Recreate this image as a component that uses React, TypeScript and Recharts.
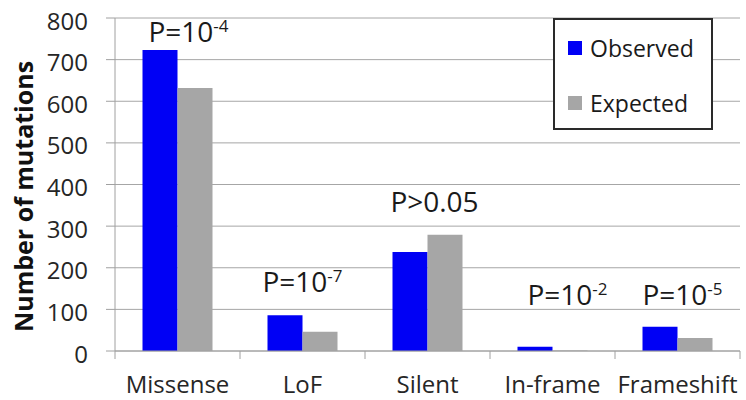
import React from 'react'
import {
  BarChart, Bar, Line, XAxis, YAxis, CartesianGrid, Legend, LabelList,
} from 'recharts'

const CATEGORIES = ['Missense', 'LoF', 'Silent', 'In-frame', 'Frameshift']
const OBSERVED = [723, 86, 238, 10, 58]
const EXPECTED = [632, 46, 279, 1, 31]
const Y_TICKS = [0, 100, 200, 300, 400, 500, 600, 700, 800]
const SERIES = ['Observed', 'Expected']

// p-value annotations: base text, superscript, and height (data units) of the text baseline
const P_TEXT = ['P=10', 'P=10', 'P>0.05', 'P=10', 'P=10']
const P_SUP = ['-4', '-7', '', '-2', '-5']
const P_LEVEL = [742, 142, 334, 110, 110]

const W = 746
const H = 400
const MARGIN = { top: 18, right: 6, left: 0, bottom: 0 }
const Y_AXIS_W = 115
const X_AXIS_H = 49
const HALF_BAND = (W - Y_AXIS_W - MARGIN.right) / CATEGORIES.length / 2
const LABEL_DX = [11, 0, 7, 15, 5]

const FONT = "'Open Sans', sans-serif"
const AXIS_GRAY = '#a0a0a0'
const BLUE = '#0000f5'
const GRAY = '#a6a6a6'

const data = CATEGORIES.map((name, i) => ({
  name,
  Observed: OBSERVED[i],
  Expected: EXPECTED[i],
  pLevel: P_LEVEL[i],
}))

function CategoryTick({ x, y, payload, index, visibleTicksCount }: any) {
  return (
    <g>
      <line x1={x - HALF_BAND} x2={x - HALF_BAND} y1={y} y2={y + 8} stroke={AXIS_GRAY} />
      {index === visibleTicksCount - 1 && (
        <line x1={x + HALF_BAND} x2={x + HALF_BAND} y1={y} y2={y + 8} stroke={AXIS_GRAY} />
      )}
      <text x={x} y={y + 42} textAnchor="middle" fontSize={24} fontFamily={FONT} fill="#262626">
        {payload.value}
      </text>
    </g>
  )
}

function PLabel({ x, y, index }: any) {
  return (
    <text x={x + LABEL_DX[index]} y={y} textAnchor="middle" fontSize={28} fontFamily={FONT} fill="#1a1a1a">
      <tspan>{P_TEXT[index]}</tspan>
      {P_SUP[index] && <tspan dy={-10} fontSize={17}>{P_SUP[index]}</tspan>}
    </text>
  )
}

function YTitle({ viewBox }: any) {
  const cy = viewBox.y + viewBox.height / 2 + 12
  return (
    <text
      x={23} y={cy} transform={`rotate(-90 23 ${cy})`}
      textAnchor="middle" dominantBaseline="central"
      fontSize={25} fontWeight="bold" fontFamily={FONT} fill="#111"
    >
      Number of mutations
    </text>
  )
}

function LegendBox({ payload }: any) {
  const items = SERIES.map((name) => (payload || []).find((p: any) => p.value === name)).filter(Boolean)
  return (
    <div style={{
      width: 156, height: 108, border: '2px solid #2a2a2a', background: '#fff',
      fontFamily: FONT, fontSize: 23, color: '#1a1a1a',
    }}>
      {items.map((p: any, i: number) => (
        <div key={p.value} style={{ display: 'flex', alignItems: 'center', height: 24, marginTop: i === 0 ? 16 : 31, marginLeft: 13 }}>
          <span style={{ width: 14, height: 14, background: p.color, marginRight: 8, display: 'inline-block' }} />
          {p.value}
        </div>
      ))}
    </div>
  )
}

export default function App() {
  return (
    <div style={{ width: W, height: H }}>
      <style>{'body{margin:0;background:#fff}'}</style>
      <BarChart width={W} height={H} data={data} margin={MARGIN} barCategoryGap="22%" barGap={0}>
        <CartesianGrid vertical={false} stroke={GRAY} />
        <XAxis
          dataKey="name" height={X_AXIS_H} stroke={AXIS_GRAY}
          tickLine={false} tickSize={0} tickMargin={0}
          tick={<CategoryTick />} interval={0}
        />
        <YAxis
          width={Y_AXIS_W} domain={[0, 800]} ticks={Y_TICKS} stroke={AXIS_GRAY}
          tickSize={9} tickMargin={18}
          tick={{ fontSize: 24, fontFamily: FONT, fill: '#262626', dy: 3 }}
          label={<YTitle />}
        />
        <Legend
          layout="vertical" align="center" verticalAlign="middle"
          wrapperStyle={{ top: 18, left: 553, width: 160, height: 112 }}
          content={<LegendBox />}
        />
        <Bar dataKey="Observed" fill={BLUE} isAnimationActive={false} />
        <Bar dataKey="Expected" fill={GRAY} isAnimationActive={false} />
        <Line dataKey="pLevel" stroke="none" dot={false} activeDot={false} legendType="none" isAnimationActive={false}>
          <LabelList dataKey="pLevel" content={<PLabel />} />
        </Line>
      </BarChart>
    </div>
  )
}
